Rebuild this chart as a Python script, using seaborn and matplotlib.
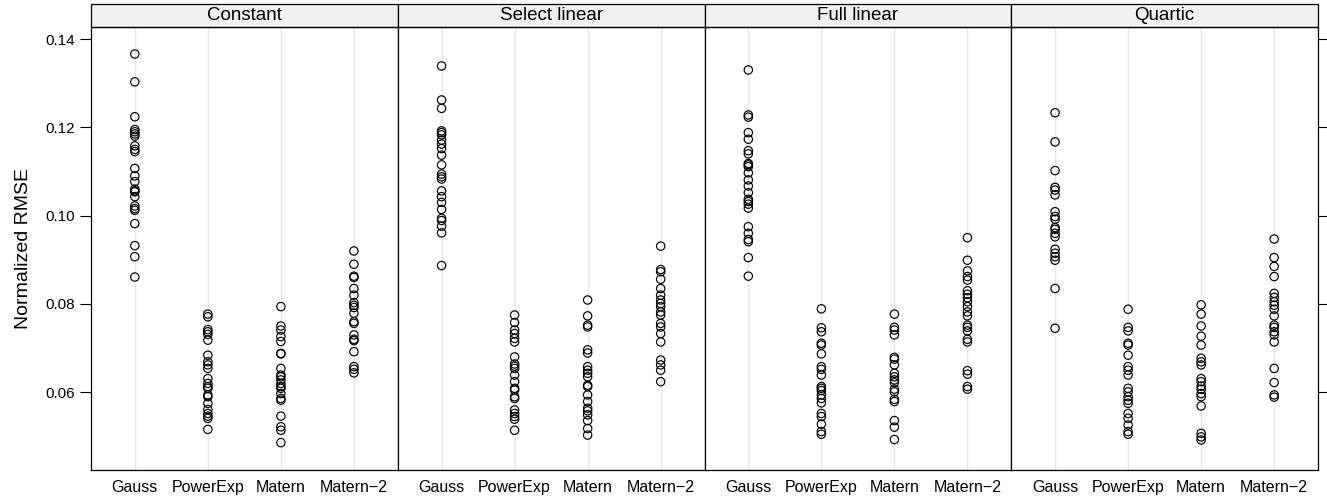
import numpy as np
import pandas as pd
import matplotlib
matplotlib.use("Agg")
import matplotlib.pyplot as plt
import seaborn as sns
from matplotlib.patches import Rectangle

panels = ["Constant", "Select linear", "Full linear", "Quartic"]
kernels = ["Gauss", "PowerExp", "Matern", "Matern\u22122"]

# ---- Constant ----
const_gauss = [0.1366, 0.1303, 0.1224, 0.1195, 0.1190, 0.1185, 0.1180, 0.1158, 0.1150, 0.1145,
               0.1107, 0.1090, 0.1077, 0.1060, 0.1056, 0.1054, 0.1043, 0.1022, 0.1016, 0.1012,
               0.0982, 0.0932, 0.0907, 0.0861]
const_powexp = [0.0777, 0.0771, 0.0742, 0.0737, 0.0731, 0.0718, 0.0684, 0.0669, 0.0662, 0.0654,
                0.0631, 0.0620, 0.0613, 0.0609, 0.0594, 0.0590, 0.0575, 0.0561, 0.0552, 0.0546,
                0.0541, 0.0516]
const_matern = [0.0794, 0.0750, 0.0741, 0.0726, 0.0715, 0.0688, 0.0687, 0.0654, 0.0639, 0.0635,
                0.0628, 0.0620, 0.0613, 0.0609, 0.0597, 0.0586, 0.0582, 0.0546, 0.0522, 0.0514,
                0.0486]
const_matern2 = [0.0920, 0.0890, 0.0863, 0.0860, 0.0835, 0.0820, 0.0803, 0.0797, 0.0792, 0.0779,
                 0.0760, 0.0756, 0.0730, 0.0720, 0.0717, 0.0692, 0.0658, 0.0652, 0.0644]

# ---- Select linear ----
sel_gauss = [0.1339, 0.1262, 0.1243, 0.1192, 0.1188, 0.1183, 0.1171, 0.1162, 0.1152, 0.1137,
             0.1115, 0.1094, 0.1088, 0.1083, 0.1056, 0.1043, 0.1030, 0.1014, 0.0994, 0.0989,
             0.0976, 0.0961, 0.0887]
sel_powexp = [0.0775, 0.0758, 0.0741, 0.0733, 0.0722, 0.0714, 0.0680, 0.0664, 0.0659, 0.0654,
              0.0639, 0.0624, 0.0609, 0.0605, 0.0590, 0.0586, 0.0560, 0.0552, 0.0545, 0.0539,
              0.0514]
sel_matern = [0.0809, 0.0773, 0.0752, 0.0748, 0.0696, 0.0689, 0.0658, 0.0650, 0.0643, 0.0635,
              0.0616, 0.0613, 0.0594, 0.0579, 0.0564, 0.0558, 0.0549, 0.0536, 0.0518, 0.0503]
sel_matern2 = [0.0931, 0.0878, 0.0873, 0.0856, 0.0835, 0.0820, 0.0809, 0.0801, 0.0794, 0.0782,
               0.0775, 0.0756, 0.0748, 0.0733, 0.0714, 0.0673, 0.0662, 0.0650, 0.0624]

# ---- Full linear ----
full_gauss = [0.1330, 0.1228, 0.1223, 0.1188, 0.1173, 0.1147, 0.1140, 0.1118, 0.1115, 0.1111,
              0.1097, 0.1081, 0.1067, 0.1052, 0.1037, 0.1032, 0.1026, 0.1017, 0.0975, 0.0960,
              0.0946, 0.0941, 0.0905, 0.0863]
full_powexp = [0.0789, 0.0746, 0.0737, 0.0711, 0.0707, 0.0687, 0.0658, 0.0652, 0.0639, 0.0613,
               0.0609, 0.0604, 0.0594, 0.0586, 0.0576, 0.0552, 0.0545, 0.0528, 0.0511, 0.0505]
full_matern = [0.0777, 0.0747, 0.0741, 0.0730, 0.0679, 0.0675, 0.0662, 0.0643, 0.0635, 0.0628,
               0.0622, 0.0607, 0.0601, 0.0584, 0.0579, 0.0536, 0.0521, 0.0493]
full_matern2 = [0.0950, 0.0899, 0.0875, 0.0862, 0.0854, 0.0830, 0.0822, 0.0814, 0.0805, 0.0794,
                0.0782, 0.0773, 0.0752, 0.0747, 0.0739, 0.0720, 0.0714, 0.0649, 0.0641, 0.0613,
                0.0607]

# ---- Quartic ----
quart_gauss = [0.1233, 0.1167, 0.1102, 0.1064, 0.1058, 0.1047, 0.1009, 0.0998, 0.0992, 0.0973,
               0.0969, 0.0960, 0.0952, 0.0924, 0.0915, 0.0907, 0.0899, 0.0835, 0.0745]
quart_powexp = [0.0788, 0.0747, 0.0739, 0.0711, 0.0707, 0.0684, 0.0658, 0.0650, 0.0639, 0.0609,
                0.0601, 0.0590, 0.0582, 0.0575, 0.0552, 0.0541, 0.0526, 0.0511, 0.0505]
quart_matern = [0.0798, 0.0777, 0.0750, 0.0727, 0.0707, 0.0677, 0.0669, 0.0662, 0.0631, 0.0624,
                0.0614, 0.0607, 0.0597, 0.0590, 0.0569, 0.0507, 0.0499, 0.0492]
quart_matern2 = [0.0947, 0.0905, 0.0885, 0.0862, 0.0824, 0.0815, 0.0805, 0.0797, 0.0788, 0.0773,
                 0.0752, 0.0747, 0.0737, 0.0730, 0.0714, 0.0654, 0.0622, 0.0594, 0.0589]

y_ticks = [0.06, 0.08, 0.10, 0.12, 0.14]
y_tick_labels = ["0.06", "0.08", "0.10", "0.12", "0.14"]

series = {
    "Constant": [const_gauss, const_powexp, const_matern, const_matern2],
    "Select linear": [sel_gauss, sel_powexp, sel_matern, sel_matern2],
    "Full linear": [full_gauss, full_powexp, full_matern, full_matern2],
    "Quartic": [quart_gauss, quart_powexp, quart_matern, quart_matern2],
}

rows = []
for p in panels:
    for k, vals in zip(kernels, series[p]):
        for v in vals:
            rows.append({"panel": p, "kernel": k, "rmse": v})
df = pd.DataFrame(rows)

sns.set_theme(style="white")
plt.rcParams["font.family"] = ["Liberation Sans", "DejaVu Sans"]

W, H = 1327, 497
fig = plt.figure(figsize=(W / 100, H / 100), dpi=100)
left, right, bottom, top = 91 / W, 1318 / W, 1 - 470 / H, 1 - 27 / H
axes = fig.subplots(1, 4, sharey=True,
                    gridspec_kw=dict(left=left, right=right, bottom=bottom, top=top, wspace=0))

strip_h = 23 / (470 - 27)
for i, (ax, p) in enumerate(zip(axes, panels)):
    sub = df[df["panel"] == p]
    sns.stripplot(data=sub, x="kernel", y="rmse", order=kernels, jitter=False,
                  color="black", edgecolor="black", size=6.0, linewidth=0.85, ax=ax)
    for coll in ax.collections:
        coll.set_facecolor("none")
        coll.set_edgecolor("black")
    ax.set_xlim(-0.6, 3.6)
    ax.set_ylim(0.0424, 0.14272)
    ax.set_xlabel("")
    ax.set_ylabel("")
    ax.xaxis.grid(True, color="#e6e6e6", linewidth=1.0)
    ax.yaxis.grid(False)
    ax.set_axisbelow(True)
    for s in ax.spines.values():
        s.set_color("black")
        s.set_linewidth(0.9)
    ax.tick_params(axis="x", length=0, labelsize=11.5, pad=7, colors="black")
    ax.set_yticks(y_ticks)
    if i == 0:
        ax.set_yticklabels(y_tick_labels)
        ax.tick_params(axis="y", which="both", left=True, right=False, length=8,
                       width=0.8, labelsize=11, colors="black", direction="out", pad=3.5)
    elif i == 3:
        ax.tick_params(axis="y", which="both", left=False, right=True, labelleft=False,
                       length=8, width=0.8, direction="out", colors="black")
    else:
        ax.tick_params(axis="y", left=False, right=False, labelleft=False)
    # strip header
    rect = Rectangle((0, 1), 1, strip_h, transform=ax.transAxes, facecolor="#f0f0f0",
                     edgecolor="black", linewidth=0.9, clip_on=False)
    ax.add_patch(rect)
    ax.text(0.5, 1 + strip_h / 2, p, transform=ax.transAxes, ha="center", va="center",
            fontsize=13.5, color="black")

axes[0].set_ylabel("Normalized RMSE", fontsize=14, color="black", labelpad=10)

fig.savefig("out.png", dpi=100)
